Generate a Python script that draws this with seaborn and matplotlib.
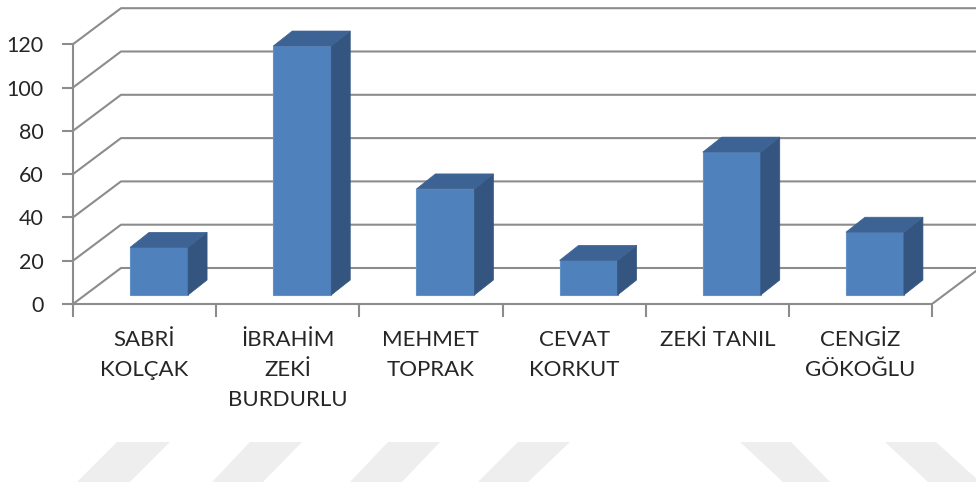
import matplotlib
matplotlib.use("Agg")
import matplotlib.pyplot as plt
import matplotlib.transforms as mtransforms
from matplotlib.patches import Polygon
import seaborn as sns
import pandas as pd

# ---- data ----
names = ["SABRİ KOLÇAK", "İBRAHİM ZEKİ BURDURLU", "MEHMET TOPRAK",
         "CEVAT KORKUT", "ZEKİ TANIL", "CENGİZ GÖKOĞLU"]
tick_labels = ["SABRİ\nKOLÇAK", "İBRAHİM\nZEKİ\nBURDURLU", "MEHMET\nTOPRAK",
               "CEVAT\nKORKUT", "ZEKİ TANIL", "CENGİZ\nGÖKOĞLU"]
values = [22, 115, 49, 16, 66, 29]
y_ticks = [0, 20, 40, 60, 80, 100, 120]

sns.set_style("white")
plt.rcParams["font.family"] = ["Lato", "DejaVu Sans"]

W, H = 976, 487
fig = plt.figure(figsize=(W / 100, H / 100), dpi=100)

# ---- layout (pixel geometry of the oblique projection) ----
px_per_cat = 143.17
px_per_unit = 2.165
x0_px, y0_px = 73, 304
ax = fig.add_axes([x0_px / W, (H - y0_px) / H, (W - x0_px) / W, y0_px / H])
xmin = -0.5
xmax = xmin + (W - x0_px) / px_per_cat
ymax = y0_px / px_per_unit

DX, DY = 48 / px_per_cat, 36 / px_per_unit     # full floor depth
OX, OY = 14.5 / px_per_cat, 9 / px_per_unit    # bar front-face offset
BX, BY = 19 / px_per_cat, 15 / px_per_unit     # bar depth

grid_c = "#8c8c8c"
front_c = "#4F81BD"
side_c = "#34557F"
top_c = "#3C6393"
n = len(names)

# walls / floor
for v in y_ticks:
    ax.plot([xmin, xmin + DX, xmax + 1], [v, v + DY, v + DY],
            color=grid_c, lw=1.5, zorder=1, solid_capstyle="butt")
ax.plot([n - 0.5, n - 0.5 + DX], [0, DY], color=grid_c, lw=1.5, zorder=1)

# bars (front faces) through seaborn, shifted into the depth
offset = mtransforms.Affine2D().translate(OX, OY) + ax.transData
df = pd.DataFrame({"name": names, "value": values})
sns.barplot(data=df, x="name", y="value", ax=ax, color=front_c, saturation=1,
            width=0.405, transform=offset, edgecolor="#6392c9", linewidth=0.8,
            zorder=3)

# side + top faces from each bar
for bar in list(ax.patches):
    bx0, by0 = bar.get_x(), bar.get_y()
    bx1, by1 = bx0 + bar.get_width(), by0 + bar.get_height()
    side = Polygon([(bx1, by0), (bx1 + BX, by0 + BY), (bx1 + BX, by1 + BY), (bx1, by1)],
                   closed=True, facecolor=side_c, edgecolor=side_c, lw=0.5,
                   transform=offset, zorder=3)
    top = Polygon([(bx0, by1), (bx1, by1), (bx1 + BX, by1 + BY), (bx0 + BX, by1 + BY)],
                  closed=True, facecolor=top_c, edgecolor=top_c, lw=0.5,
                  transform=offset, zorder=3)
    ax.add_patch(side)
    ax.add_patch(top)

# axes
ax.set_xlim(xmin, xmax)
ax.set_ylim(0, ymax)
ax.set_xlabel("")
ax.set_ylabel("")
ax.set_yticks(y_ticks)
ax.set_yticklabels([str(t) for t in y_ticks], fontsize=15.5)
ax.set_xticks(range(n))
ax.set_xticklabels(tick_labels, fontsize=16, linespacing=1.62)
ax.set_xticks([i - 0.5 for i in range(n + 1)], minor=True)
ax.tick_params(axis="y", left=True, length=8, width=1.5, color=grid_c, pad=13)
ax.tick_params(axis="x", which="major", bottom=True, length=0, pad=19)
ax.tick_params(axis="x", which="minor", bottom=True, length=9, width=1.5, color=grid_c)
for s in ["top", "right"]:
    ax.spines[s].set_visible(False)
for s in ["left", "bottom"]:
    ax.spines[s].set_color(grid_c)
    ax.spines[s].set_linewidth(1.5)
ax.spines["left"].set_bounds(0, 120)
ax.spines["bottom"].set_bounds(-0.5, n - 0.5)
ax.patch.set_alpha(0)

# faint watermark stripes at the bottom
stripes = [((117, 170), (77, 130)), ((250, 302), (212, 263)), ((388, 440), (350, 402)),
           ((518, 570), (478, 528)), ((740, 791), (783, 830)), ((885, 936), (928, 980))]
yt, yb = 442, 482
for (t0, t1), (b0, b1) in stripes:
    pts = [(t0 / W, 1 - yt / H), (t1 / W, 1 - yt / H), (b1 / W, 1 - yb / H), (b0 / W, 1 - yb / H)]
    fig.patches.append(Polygon(pts, closed=True, transform=fig.transFigure,
                               facecolor="#eeeeee", edgecolor="none", zorder=0))

fig.savefig("out.png", dpi=100)
